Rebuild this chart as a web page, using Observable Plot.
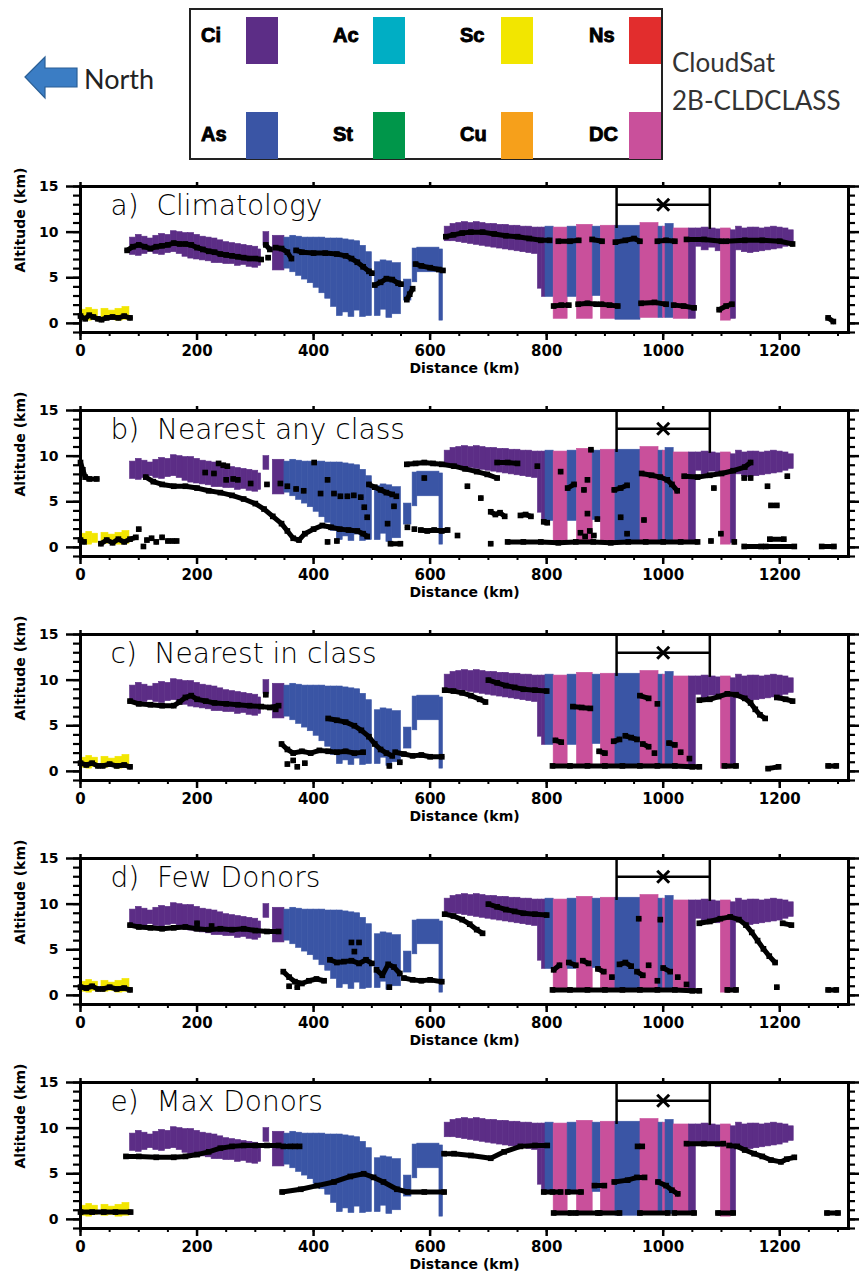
<!DOCTYPE html>
<html><head><meta charset="utf-8">
<script src="https://cdn.jsdelivr.net/npm/d3@7"></script>
<script src="https://cdn.jsdelivr.net/npm/@observablehq/plot@0.6"></script>
<style>
body{margin:0;background:#fff;overflow:hidden}
#root{width:863px}
#root svg{display:block}
</style></head><body><div id="root"></div>
<script>
// ---------- cloud classes ----------
const classNames  = ["Ci","As","Ac","St","Sc","Cu","Ns","DC"];
const classColors = ["#5c2d86","#3a55a5","#00aec4","#00964a","#f2e600","#f6a01b","#e22d2d","#c9509b"];
const legendRow1 = ["Ci","Ac","Sc","Ns"];
const legendRow2 = ["As","St","Cu","DC"];

// ---------- CloudSat curtain: [x1 km, x2 km, base km, top km, class] ----------
const cloudBlocks = [
 [0,10,0.4,1.5,"Sc"],[10,20,0.3,1.7,"Sc"],[20,30,0.5,1.5,"Sc"],
 [36,48,0.4,1.6,"Sc"],[48,60,0.5,1.4,"Sc"],[60,72,0.3,1.6,"Sc"],[72,84,0.4,1.8,"Sc"],
 [85,95,7.5,9.4,"Ci"],[95,105,7.4,9.7,"Ci"],[105,115,7.6,9.5,"Ci"],[115,125,7.8,9.3,"Ci"],
 [125,135,7.6,9.6,"Ci"],[135,145,7.5,9.8,"Ci"],[145,155,7.7,9.7,"Ci"],[155,165,7.8,10.1,"Ci"],
 [165,175,7.6,10.0,"Ci"],[175,185,7.3,9.9,"Ci"],[185,195,7.1,9.9,"Ci"],[195,205,7.0,9.7,"Ci"],
 [205,215,6.9,9.5,"Ci"],[215,225,6.8,9.4,"Ci"],[225,235,6.6,9.3,"Ci"],[235,245,6.6,9.1,"Ci"],
 [245,255,6.5,8.9,"Ci"],[255,265,6.5,8.8,"Ci"],[265,275,6.3,8.7,"Ci"],[275,285,6.4,8.6,"Ci"],
 [285,295,6.2,8.5,"Ci"],[295,305,6.1,8.4,"Ci"],[305,310,6.3,8.1,"Ci"],
 [314,324,8.5,10.0,"Ci"],[330,350,5.8,9.6,"Ci"],
 [350,360,6.0,9.4,"As"],[360,370,5.6,9.6,"As"],[370,380,5.2,9.5,"As"],[380,390,4.8,9.4,"As"],
 [390,400,4.4,9.4,"As"],[400,410,3.9,9.4,"As"],[410,420,3.3,9.4,"As"],[420,430,2.7,9.3,"As"],
 [430,440,1.8,9.3,"As"],[440,450,0.8,9.3,"As"],[450,460,1.2,9.2,"As"],[460,470,0.7,9.1,"As"],
 [470,480,1.4,9.0,"As"],[480,490,0.7,8.5,"As"],[490,500,0.8,7.8,"As"],
 [505,515,0.8,6.7,"As"],[515,525,1.5,6.9,"As"],[525,535,0.6,6.8,"As"],[535,550,1.0,6.6,"As"],
 [555,568,2.5,4.8,"As"],
 [570,578,4.5,8.2,"As"],[578,616,5.6,8.3,"As"],[616,622,0.3,8.1,"As"],
 [625,635,9.0,10.6,"Ci"],[635,645,9.0,10.9,"Ci"],[645,655,8.9,11.0,"Ci"],[655,665,8.8,11.1,"Ci"],
 [665,675,8.7,11.0,"Ci"],[675,685,8.6,11.1,"Ci"],[685,695,8.5,11.0,"Ci"],[695,705,8.4,10.9,"Ci"],
 [705,715,8.3,10.9,"Ci"],[715,725,8.2,10.8,"Ci"],[725,735,8.1,10.8,"Ci"],[735,745,8.0,10.7,"Ci"],
 [745,755,7.9,10.7,"Ci"],[755,765,7.8,10.6,"Ci"],[765,775,7.7,10.6,"Ci"],[775,785,7.6,10.5,"Ci"],
 [785,792,3.8,10.5,"Ci"],[792,798,2.9,10.5,"Ci"],
 [798,812,2.9,10.6,"As"],[812,836,0.5,10.5,"DC"],[836,852,2.9,10.6,"As"],[852,879,0.5,10.8,"DC"],
 [879,893,3.0,10.6,"As"],[893,918,0.5,10.7,"DC"],[918,961,0.4,10.7,"As"],[961,992,0.6,11.0,"DC"],
 [992,1000,0.6,10.6,"As"],[1000,1004,0.6,10.6,"DC"],[1004,1018,0.6,10.9,"As"],[1018,1044,0.5,10.4,"DC"],
 [1044,1056,0.5,10.4,"Ci"],[1056,1066,8.4,10.4,"Ci"],[1066,1078,8.0,10.5,"Ci"],[1078,1090,8.3,10.4,"Ci"],
 [1090,1099,7.9,10.3,"Ci"],[1099,1116,0.3,10.4,"DC"],[1116,1125,0.5,10.2,"Ci"],
 [1125,1135,8.0,10.6,"Ci"],[1135,1145,7.8,10.4,"Ci"],[1145,1155,7.7,10.5,"Ci"],[1155,1165,7.8,10.5,"Ci"],
 [1165,1175,7.9,10.4,"Ci"],[1175,1185,8.0,10.5,"Ci"],[1185,1195,8.1,10.6,"Ci"],[1195,1205,8.2,10.5,"Ci"],
 [1205,1215,8.4,10.4,"Ci"],[1215,1224,8.6,10.2,"Ci"]
];

// ---------- verification box (km) ----------
const boxEdges = [920, 1080];
const boxBottoms = [10.4, 10.3];
const boxLineAlt = 13.0;
const boxMarker = [1000, 13.0];

// ---------- estimated cloud-top points per method: runs of [distance km, altitude km] ----------
const climatologyRuns = [
 [[0,0.8],[8,0.5],[15,0.9],[22,0.7],[30,0.5]],
 [[36,0.4],[45,0.6],[55,0.7],[65,0.6],[75,0.8],[85,0.6]],
 [[80,8.0],[90,8.4],[100,8.6],[110,8.4],[120,8.2],[130,8.4],[140,8.5],[150,8.6],[160,8.8],[170,8.7],[180,8.7],[190,8.6],[200,8.3],[210,8.1],[220,7.9],[230,7.8],[240,7.6],[250,7.5],[260,7.4],[270,7.3],[280,7.2],[290,7.1],[300,7.1],[310,7.0]],
 [[318,8.6],[325,8.1]],[[322,7.2]],
 [[335,8.3],[345,8.2],[355,7.8],[362,7.1]],
 [[370,8.0],[380,7.8],[400,7.7],[420,7.7],[440,7.6],[455,7.4],[465,7.1],[475,6.7],[485,6.2],[495,5.7],[500,5.5]],
 [[505,4.2],[515,4.5],[525,4.9],[535,4.8],[545,4.4],[550,4.3]],
 [[560,2.6],[565,3.2],[570,3.8]],
 [[575,6.5],[585,6.3],[600,6.1],[615,5.9],[622,5.8]],
 [[627,9.5],[640,9.7],[655,9.9],[670,10.0],[690,10.0],[710,9.8],[730,9.6],[750,9.5],[770,9.3],[790,9.1],[805,9.1]],
 [[820,9.0],[840,9.0],[855,9.1]],
 [[878,9.2],[895,9.0]],
 [[918,8.9],[935,9.1],[950,9.3],[960,9.0]],
 [[990,9.0],[1005,9.1],[1020,9.0]],
 [[1040,9.2],[1070,9.2],[1100,9.0]],
 [[1108,9.0],[1140,9.1],[1170,9.1],[1200,9.0],[1222,8.7]],
 [[812,1.9],[825,2.0],[838,2.0]],
 [[854,2.1],[870,2.2],[885,2.1]],
 [[894,2.1],[908,2.0],[922,1.9]],
 [[962,2.2],[985,2.3],[1005,2.1]],
 [[1018,2.0],[1035,1.9],[1053,1.7]],
 [[1096,1.5],[1108,1.9],[1118,2.1]],
 [[1283,0.6],[1292,0.2]]
];

const nearestAnyRuns = [
 [[0,9.3],[4,8.5],[8,7.7],[15,7.5],[28,7.5]],
 [[0,0.8],[6,0.6]],
 [[35,0.4],[45,0.8],[55,0.5],[65,0.9],[75,0.6],[85,0.9],[95,1.1]],
 [[100,2.0]],[[108,0.1]],[[114,0.8]],[[122,1.0]],[[130,0.6]],[[140,1.1]],[[150,0.7]],[[158,0.7]],[[165,0.7]],
 [[112,7.7],[125,7.2],[140,6.9],[160,6.7],[180,6.7],[200,6.5],[220,6.2],[240,6.0],[260,5.7],[280,5.3],[300,4.8],[315,4.2],[330,3.4],[345,2.6],[355,1.8],[365,1.0],[375,0.8],[385,1.5],[400,2.0],[415,2.4],[430,2.2],[445,2.0],[460,1.9],[475,1.8],[485,1.5],[492,1.2]],
 [[532,0.4],[549,0.4]],[[424,0.6]],[[440,0.7]],
 [[214,8.2]],[[229,8.1]],[[237,9.2]],[[245,9.0]],[[252,8.9]],[[250,7.4]],[[262,7.5]],[[270,7.4]],[[292,7.0]],
 [[320,6.9]],[[343,7.0]],[[355,6.7]],[[370,6.4]],[[383,6.2]],[[401,9.3]],[[412,5.9]],[[424,7.4]],
 [[435,5.9]],[[446,5.6]],[[458,5.6]],[[469,5.7]],[[481,5.5]],[[487,4.4]],[[492,3.3]],
 [[495,6.9],[505,6.6],[515,6.3],[525,6.0],[535,5.8]],
 [[527,2.6]],[[538,4.5]],[[542,5.6]],[[561,2.2]],[[573,2.0]],
 [[560,9.1],[575,9.2],[590,9.3],[605,9.2],[620,9.1],[641,8.9],[660,8.6],[680,8.3],[698,8.0],[715,7.6]],
 [[715,9.3],[733,9.3],[750,9.2]],[[784,8.9]],
 [[590,7.6]],[[664,6.7]],[[687,5.4]],
 [[704,3.9],[712,3.6],[720,3.8],[728,3.4]],[[755,3.5],[764,3.6],[773,3.4]],[[795,2.8],[801,2.7]],
 [[584,1.9],[595,1.8],[607,1.9],[620,1.8],[630,1.9]],[[647,1.3]],[[704,0.4]],
 [[733,0.6],[760,0.6],[790,0.6],[820,0.5],[850,0.6],[880,0.6],[910,0.5],[940,0.6],[970,0.6],[1000,0.6],[1030,0.6],[1059,0.6]],
 [[1082,0.7]],[[1099,1.5]],[[1122,0.6]],
 [[1139,0.1],[1168,0.1]],[[1176,0.1],[1225,0.1]],[[1183,0.9],[1207,0.9]],[[1272,0.1],[1293,0.1]],
 [[824,8.3]],[[836,6.5],[847,6.9]],[[864,6.3]],[[876,10.7]],[[870,7.4]],[[870,3.7]],[[887,3.1]],
 [[858,1.6]],[[866,1.2]],[[874,1.8]],[[881,1.3]],
 [[916,6.3],[927,6.5],[938,6.8]],[[927,3.3]],[[938,1.5]],[[967,3.0]],
 [[963,8.1],[980,7.9],[995,7.7],[1007,7.4],[1015,6.9],[1024,6.2]],
 [[1036,7.8],[1059,7.7],[1080,7.9],[1100,8.1],[1120,8.4],[1140,8.8],[1150,9.3]],
 [[1087,6.5]],[[1139,7.6]],[[1150,7.6]],[[1179,6.7]],[[1185,4.6],[1195,4.6]],[[1213,7.8]]
];

const nearestClassRuns = [
 [[0,0.9],[10,0.7],[20,0.9],[30,0.6]],
 [[38,0.6],[50,0.8],[62,0.6],[75,0.7],[85,0.5]],
 [[85,7.7],[100,7.4],[120,7.3],[140,7.2],[160,7.2],[170,7.6],[180,8.1],[190,8.3],[200,7.9],[215,7.7],[230,7.5],[250,7.4],[270,7.3],[290,7.2],[310,7.1],[325,7.0],[340,7.2]],
 [[318,8.4]],[[335,6.8]],
 [[345,3.0],[355,2.4],[365,2.0],[380,2.2],[395,2.0],[410,2.3],[425,2.2],[440,2.1],[455,2.2],[470,2.0],[485,2.1]],
 [[355,0.8]],[[365,1.2]],[[372,0.5]],[[385,0.9]],
 [[425,5.8],[440,5.6],[455,5.4],[470,5.0],[482,4.5],[495,3.8],[505,3.0],[515,2.4],[525,2.0],[535,1.7]],
 [[540,2.1],[555,1.9],[570,1.7],[585,1.8],[600,1.6],[620,1.6]],
 [[530,0.6]],[[548,1.0]],
 [[625,8.9],[640,8.8],[655,8.6],[670,8.3],[685,7.9],[695,7.6]],
 [[700,10.0],[715,9.7],[730,9.4],[745,9.2],[760,9.0],[780,8.9],[800,8.8]],
 [[810,0.6],[840,0.6],[870,0.6],[900,0.6],[930,0.6],[960,0.6],[990,0.6],[1020,0.6],[1050,0.5],[1062,0.5]],
 [[815,3.4],[825,3.2]],[[845,7.1],[860,7.0],[875,6.9]],[[890,2.2],[900,2.0]],[[915,3.3],[925,3.5]],
 [[935,3.9],[945,3.7],[955,3.5]],[[965,3.0],[975,2.7]],[[985,2.0]],[[960,8.3],[975,8.0]],[[990,7.4]],
 [[1010,3.1],[1020,2.9]],[[1030,2.1]],[[1045,1.4]],
 [[1062,7.8],[1080,7.9],[1095,8.2],[1110,8.5],[1125,8.4],[1140,8.0],[1150,7.5],[1158,6.8],[1166,6.2],[1175,5.8]],
 [[1195,8.1],[1210,7.9],[1222,7.7]],[[1105,0.6],[1125,0.6]],[[1180,0.3],[1198,0.5]],[[1283,0.6],[1297,0.6]]
];

const fewDonorsRuns = [
 [[0,0.9],[10,0.8],[20,1.0],[30,0.7]],
 [[38,0.7],[50,0.9],[62,0.7],[75,0.8],[85,0.6]],
 [[85,7.7],[100,7.5],[120,7.4],[140,7.3],[160,7.4],[180,7.5],[200,7.3],[220,7.2],[240,7.3],[260,7.2],[280,7.3],[300,7.1],[320,7.0],[340,7.0]],
 [[200,7.9]],[[225,7.6]],
 [[348,2.6],[358,2.0],[368,1.5],[380,1.3],[392,1.6],[405,1.8],[418,1.6]],
 [[358,1.0]],[[372,0.9]],
 [[428,3.9],[440,3.6],[452,3.7],[465,3.8],[478,3.5],[490,3.9],[500,3.5]],
 [[465,5.8]],[[478,5.8]],[[470,4.8]],
 [[508,2.8],[518,2.2],[528,3.4],[538,3.1],[548,2.4]],
 [[555,1.9],[570,1.7],[585,1.6],[600,1.7],[620,1.5]],
 [[530,0.9]],
 [[625,8.9],[640,8.7],[655,8.3],[668,7.8],[680,7.2],[690,6.8]],
 [[700,10.0],[715,9.7],[730,9.4],[745,9.2],[760,9.0],[780,8.9],[800,8.8]],
 [[810,0.6],[840,0.6],[870,0.6],[900,0.6],[930,0.6],[960,0.6],[990,0.6],[1020,0.6],[1050,0.5],[1062,0.5]],
 [[812,2.8],[822,3.3]],[[838,3.6],[850,3.3]],[[862,3.8],[872,3.5]],[[888,2.9],[898,2.6]],[[912,2.0]],
 [[925,3.4],[935,3.6],[945,3.2]],[[955,2.6],[965,2.2]],[[975,3.3]],[[990,1.6]],[[1000,3.0],[1012,2.6]],
 [[1025,2.0]],[[1040,1.2]],[[958,8.4]],[[995,8.3]],
 [[1062,7.9],[1080,8.1],[1098,8.4],[1115,8.6],[1130,8.3],[1142,7.7],[1152,6.9],[1162,6.0],[1172,5.1],[1182,4.3],[1192,3.6]],
 [[1195,0.9]],[[1205,7.9],[1220,7.7]],[[1283,0.6],[1297,0.6]],[[1110,0.6],[1125,0.6]]
];

const maxDonorsRuns = [
 [[0,0.8],[20,0.8],[40,0.8],[60,0.8],[86,0.8]],
 [[78,6.9],[100,6.9],[130,6.8],[160,6.8],[180,6.9],[200,7.1],[220,7.4],[240,7.8],[260,8.0],[280,8.1],[300,8.1],[320,8.1],[340,8.1]],
 [[348,8.0],[360,8.0]],[[368,8.0],[376,8.0]],
 [[346,3.0],[378,3.3],[406,3.7],[435,4.1],[463,4.7],[486,5.0],[503,4.6],[520,4.1],[543,3.3],[561,3.0],[590,3.0],[624,3.0]],
 [[624,7.2],[641,7.2],[670,7.0],[704,6.7],[727,7.4],[755,8.0],[780,8.1],[801,8.1]],
 [[795,3.0],[810,3.0],[824,3.0]],[[836,3.0],[859,3.0]],[[882,3.7],[899,3.7]],
 [[916,4.1],[939,4.3],[955,4.6],[968,4.6]],[[991,4.1],[1005,3.7],[1015,3.2],[1025,2.8]],
 [[812,0.7],[841,0.7]],[[850,0.7],[888,0.7]],[[891,0.7],[925,0.7]],[[960,0.7],[1008,0.7]],
 [[1019,0.7],[1053,0.7]],[[1094,0.7],[1120,0.7]],[[1281,0.7],[1300,0.7]],
 [[956,8.0],[964,8.0]],
 [[1040,8.3],[1070,8.3],[1103,8.3]],
 [[1113,8.1],[1127,8.0],[1140,7.6],[1156,7.2],[1170,6.9],[1185,6.5],[1202,6.3],[1212,6.6],[1225,6.8]]
];

const panelTitles = ["a)\u00a0 Climatology","b)\u00a0 Nearest any class","c)\u00a0 Nearest in class","d)\u00a0 Few Donors","e)\u00a0 Max Donors"];
const panelRuns = [climatologyRuns, nearestAnyRuns, nearestClassRuns, fewDonorsRuns, maxDonorsRuns];
const xTicksMajor = [0,200,400,600,800,1000,1200];
const xTicksMinor = d3.range(0, 1301, 50);
const yTicksMajor = [0,5,10,15];
const yTicksMinor = d3.range(-1, 16, 1);

// ---------- header (legend) ----------
const colorOf = c => classColors[classNames.indexOf(c)];
const root = d3.select("#root");
const hdr = root.append("svg").attr("width",863).attr("height",165).attr("viewBox","0 0 863 165");
hdr.append("polygon").attr("points","25,77 45,57 45,68 77,68 77,87 45,87 45,98")
  .attr("fill","#3b7dc4").attr("stroke","#2a5f96").attr("stroke-width",1.2);
hdr.append("text").attr("x",84).attr("y",89).text("North")
  .attr("font-family","Lato, 'Open Sans', sans-serif").attr("font-size",27).attr("fill","#222");
hdr.append("rect").attr("x",190).attr("y",9).attr("width",472).attr("height",150)
  .attr("fill","none").attr("stroke","#222").attr("stroke-width",2);
const colText = [201,333,460,589], colSw = [246,373,501,629];
[[legendRow1,17,42],[legendRow2,112,141]].forEach(([row,sy,ty]) => {
  row.forEach((c,i) => {
    hdr.append("rect").attr("x",colSw[i]).attr("y",sy).attr("width",32).attr("height",47).attr("fill",colorOf(c));
    hdr.append("text").attr("x",colText[i]).attr("y",ty).text(c)
      .attr("font-family","'Liberation Sans', Arial, sans-serif").attr("font-weight","bold")
      .attr("font-size",20).attr("stroke","#000").attr("stroke-width",0.9).attr("fill","#000");
  });
});
hdr.append("text").attr("x",672).attr("y",72).text("CloudSat")
  .attr("font-family","Lato, 'Open Sans', sans-serif").attr("font-size",26).attr("fill","#333");
hdr.append("text").attr("x",672).attr("y",110).text("2B-CLDCLASS")
  .attr("font-family","Lato, 'Open Sans', sans-serif").attr("font-size",26).attr("fill","#333");

// ---------- panels ----------
const blocks = cloudBlocks.map(([x1,x2,b,t,c]) => ({x1,x2,b,t,c}));
const boxRules = boxEdges.map((x,i) => ({x, b: boxBottoms[i]}));
const noText = () => "";
const plain = d => String(d);

function panel(title, runs, last) {
  const pts = runs.flatMap((r,i) => r.map(([d,a]) => ({d, a, run: i})));
  return Plot.plot({
    width: 863, height: last ? 213 : 224,
    marginLeft: 80, marginRight: 15, marginTop: 21, marginBottom: last ? 46 : 57,
    x: {domain: [0, 1318]},
    y: {domain: [-1, 15]},
    color: {domain: classNames, range: classColors},
    style: {fontFamily: "'DejaVu Sans', sans-serif", background: "white", overflow: "visible"},
    marks: [
      Plot.rect(blocks, {x1: "x1", x2: "x2", y1: "b", y2: "t", fill: "c", stroke: "c", strokeWidth: 0.6}),
      Plot.line(pts, {x: "d", y: "a", z: "run", stroke: "black", strokeWidth: 5}),
      Plot.dot(pts, {x: "d", y: "a", symbol: "square", r: 3.2, fill: "black"}),
      Plot.ruleX(boxRules, {x: "x", y1: "b", y2: 15, stroke: "black", strokeWidth: 2.5}),
      Plot.ruleY([boxLineAlt], {x1: boxEdges[0], x2: boxEdges[1], stroke: "black", strokeWidth: 2.5}),
      Plot.dot([boxMarker], {x: d => d[0], y: d => d[1], symbol: "times", r: 5.5, stroke: "black", strokeWidth: 3}),
      Plot.axisY({ticks: yTicksMinor, tickSize: 7, tickFormat: noText, label: null, strokeWidth: 2.2}),
      Plot.axisY({ticks: yTicksMajor, tickSize: 14, tickPadding: 8, tickFormat: plain, label: null, strokeWidth: 2.5,
                  fontSize: 14, fontWeight: "bold"}),
      Plot.axisY({anchor: "right", ticks: yTicksMinor, tickSize: 6, tickFormat: noText, label: null, strokeWidth: 2.2}),
      Plot.axisY({anchor: "right", ticks: yTicksMajor, tickSize: 10, tickFormat: noText, label: null, strokeWidth: 2.5}),
      Plot.axisX({ticks: xTicksMinor, tickSize: 4, tickFormat: noText, label: null, strokeWidth: 2}),
      Plot.axisX({ticks: xTicksMajor, tickSize: 8, tickPadding: 5, tickFormat: plain, label: null, strokeWidth: 2.5,
                  fontSize: 15, fontWeight: "bold"}),
      Plot.axisX({anchor: "top", ticks: xTicksMajor, tickSize: 5, tickFormat: noText, label: null, strokeWidth: 2.5}),
      Plot.frame({stroke: "black", strokeWidth: 3}),
      Plot.text([title], {text: d => d, frameAnchor: "top-left", dx: 30, dy: 9, lineAnchor: "top", textAnchor: "start",
                  fontSize: 28, fontWeight: 200, fill: "black"}),
      Plot.text(["Distance (km)"], {text: d => d, frameAnchor: "bottom", dy: 40, fontSize: 14, fontWeight: "bold"}),
      Plot.text(["Altitude (km)"], {text: d => d, frameAnchor: "left", dx: -60, dy: 13, rotate: -90, fontSize: 14, fontWeight: "bold"})
    ]
  });
}

panelTitles.forEach((t, i) => {
  root.node().appendChild(panel(t, panelRuns[i], i === panelTitles.length - 1));
});
</script></body></html>
